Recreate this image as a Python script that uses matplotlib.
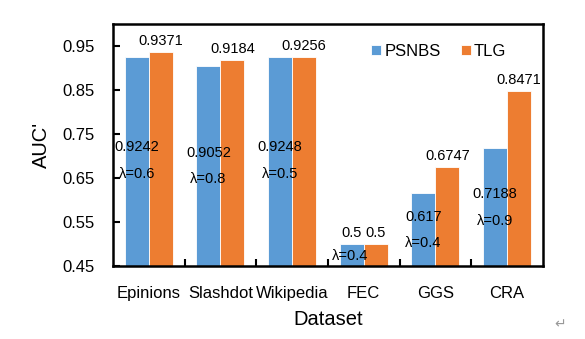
import numpy as np
import matplotlib.pyplot as plt

plt.rcParams['font.family'] = ['Liberation Sans', 'DejaVu Sans']

datasets = ['Epinions', 'Slashdot', 'Wikipedia', 'FEC', 'GGS', 'CRA']
psnbs = [0.9242, 0.9052, 0.9248, 0.5, 0.617, 0.7188]
tlg = [0.9371, 0.9184, 0.9256, 0.5, 0.6747, 0.8471]
lambdas = [0.6, 0.8, 0.5, 0.4, 0.4, 0.9]

# where the PSNBS value / lambda labels were dragged to in the original
psnbs_label_y = [0.720, 0.706, 0.720, 0.532, 0.561, 0.613]
lambda_label_y = [0.659, 0.647, 0.659, 0.473, 0.502, 0.552]

blue = '#5B9BD5'
orange = '#ED7D31'

fig = plt.figure(figsize=(5.85, 3.39), dpi=100)
ax = fig.add_axes([0.193, 0.215, 0.735, 0.714])

x = np.arange(len(datasets))
w = 0.335
ax.bar(x - w/2, psnbs, w, color=blue, edgecolor='white', linewidth=0.6, label='PSNBS')
ax.bar(x + w/2, tlg, w, color=orange, edgecolor='white', linewidth=0.6, label='TLG')

fs = 10.5
for i in range(len(datasets)):
    ax.annotate(f'{tlg[i]:g}', (x[i] + w/2, tlg[i]), xytext=(0, 3), textcoords='offset points',
                ha='center', va='bottom', fontsize=fs)
    if datasets[i] == 'FEC':
        ax.annotate(f'{psnbs[i]:g}', (x[i] - w/2, psnbs[i]), xytext=(0, 3), textcoords='offset points',
                    ha='center', va='bottom', fontsize=fs)
        ax.text(x[i] - w/2 - 0.02, lambda_label_y[i], f'λ={lambdas[i]}', ha='center', va='center', fontsize=fs)
    else:
        ax.text(x[i] - w/2, psnbs_label_y[i], f'{psnbs[i]:g}', ha='center', va='center', fontsize=fs)
        ax.text(x[i] - w/2, lambda_label_y[i], f'λ={lambdas[i]}', ha='center', va='center', fontsize=fs)

ax.set_xlim(-0.5, len(datasets) - 0.5)
ax.set_ylim(0.45, 1.0)
ax.set_yticks(np.arange(0.45, 0.96, 0.1))
ax.set_yticklabels([f'{v:.2f}' for v in np.arange(0.45, 0.96, 0.1)], fontsize=12)
ax.tick_params(axis='y', direction='in', length=5, width=1.5, pad=13)

ax.set_xticks(x[:-1] + 0.5)
ax.set_xticklabels([])
ax.set_xticks(x, minor=True)
ax.set_xticklabels(datasets, minor=True, fontsize=12)
ax.tick_params(axis='x', which='major', direction='in', length=5, width=1.5)
ax.tick_params(axis='x', which='minor', length=0, pad=14)

for s in ax.spines.values():
    s.set_linewidth(1.8)

ax.set_xlabel('Dataset', fontsize=14.5, labelpad=7)
ax.set_ylabel("AUC'", fontsize=14.5, labelpad=8)

ax.legend(loc='upper right', bbox_to_anchor=(0.95, 0.98), ncol=2, frameon=False, fontsize=12,
          handlelength=0.6, handleheight=0.6, handletextpad=0.2, columnspacing=1.2)

fig.text(0.947, 0.032, '↵', fontsize=10, color='#999999', family='DejaVu Sans')

plt.savefig('out.png', dpi=100)
